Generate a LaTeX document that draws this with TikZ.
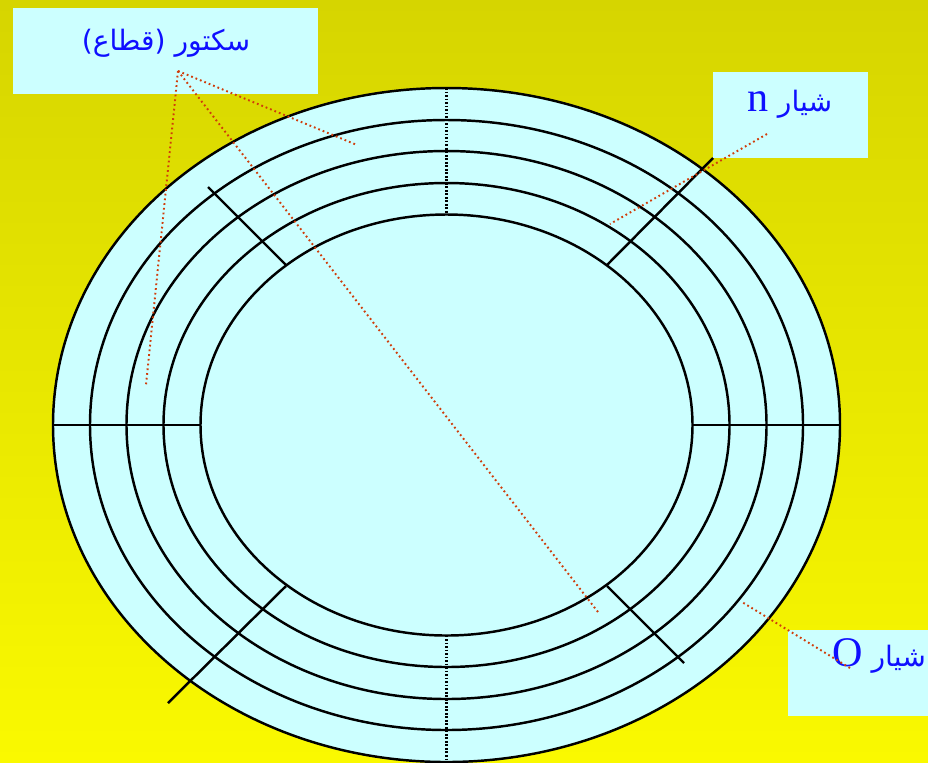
\documentclass[tikz,border=0pt]{standalone}
\usepackage{fontspec}
\setmainfont{Liberation Serif}
\newfontfamily\arabicfont[Script=Arabic]{DejaVu Sans}
\TeXXeTstate=1
\usetikzlibrary{positioning, calc}

\definecolor{disk}{RGB}{204,255,255}
\definecolor{lead}{RGB}{208,60,10}
\definecolor{lbl}{RGB}{15,15,255}
\definecolor{bgtop}{RGB}{214,213,0}
\definecolor{bgbot}{RGB}{250,249,0}
\newcommand\latn[1]{{\rmfamily\fontsize{24}{28}\selectfont #1}}

\begin{document}
\begin{tikzpicture}[
    x=0.02cm, y=-0.02cm,
    track/.style={draw, line width=1.4pt},
    cut/.style={line width=1.4pt},
    gap/.style={line width=1.4pt, dash pattern=on 1pt off 1pt},
    leader/.style={draw=lead, line width=1.1pt, dash pattern=on 1pt off 1.7pt},
    tag/.style={fill=disk, inner sep=0pt, minimum height=1.72cm},
    txt/.style={text=lbl, inner sep=0pt, font=\arabicfont\fontsize{16}{20}\selectfont}
]
    \fill[top color=bgtop, bottom color=bgbot] (0,0) rectangle (928,762);
    \clip (0,0) rectangle (928,762);
    \coordinate (c) at (446.5,425);

    % tracks
    \draw[track, fill=disk] (c) ellipse [x radius=393.5, y radius=337];
    \draw[track] (c) ellipse [x radius=356.5, y radius=305];
    \draw[track] (c) ellipse [x radius=320, y radius=274];
    \draw[track] (c) ellipse [x radius=283, y radius=242];
    \draw[track] (c) ellipse [x radius=246, y radius=210.5];

    % sector borders
    \draw[gap] ($(c)+(0,-337)$) -- ($(c)+(0,-210.5)$);
    \draw[gap] ($(c)+(0,210.5)$) -- ($(c)+(0,337)$);
    \draw[cut] ($(c)+(-393.5,0)$) -- ($(c)+(-246,0)$);
    \draw[cut] ($(c)+(246,0)$) -- ($(c)+(393.5,0)$);
    \draw[cut] ($(c)+(-238.5,-238)$) -- ($(c)+(-160.5,-160)$);
    \draw[cut] ($(c)+(266.5,-267)$) -- ($(c)+(160.5,-160)$);
    \draw[cut] ($(c)+(-278.5,278)$) -- ($(c)+(-160.5,161)$);
    \draw[cut] ($(c)+(237.5,238)$) -- ($(c)+(160.5,161)$);

    % labels
    \node[tag, minimum width=6.1cm] (sectorbox) at (165.5,50.5) {};
    \node[tag, minimum width=3.1cm] (nbox) at (790.5,115) {};
    \node[tag, minimum width=3.1cm] (obox) at (865.5,673) {};
    \node[txt] (sectortxt) at (166,43) {\beginR سکتور (قطاع)\endR};
    \node[txt] (ntxt) at (790,104) {\beginR شیار \beginL\latn{n}\endL\endR};
    \node[txt] (otxt) at (879,656) {\beginR شیار \beginL\latn{O}\endL\endR};

    % leaders
    \coordinate (sp) at (178,71);
    \coordinate (s1) at (357,145);
    \coordinate (s2) at (146,385);
    \coordinate (s3) at (598,612);
    \coordinate (np) at (767,134);
    \coordinate (n1) at (610,224);
    \coordinate (op) at (850,668);
    \coordinate (o1) at (742,602);
    \draw[leader] (sp) -- (s1);
    \draw[leader] (sp) -- (s2);
    \draw[leader] (sp) -- (s3);
    \draw[leader] (np) -- (n1);
    \draw[leader] (op) -- (o1);
\end{tikzpicture}
\end{document}
